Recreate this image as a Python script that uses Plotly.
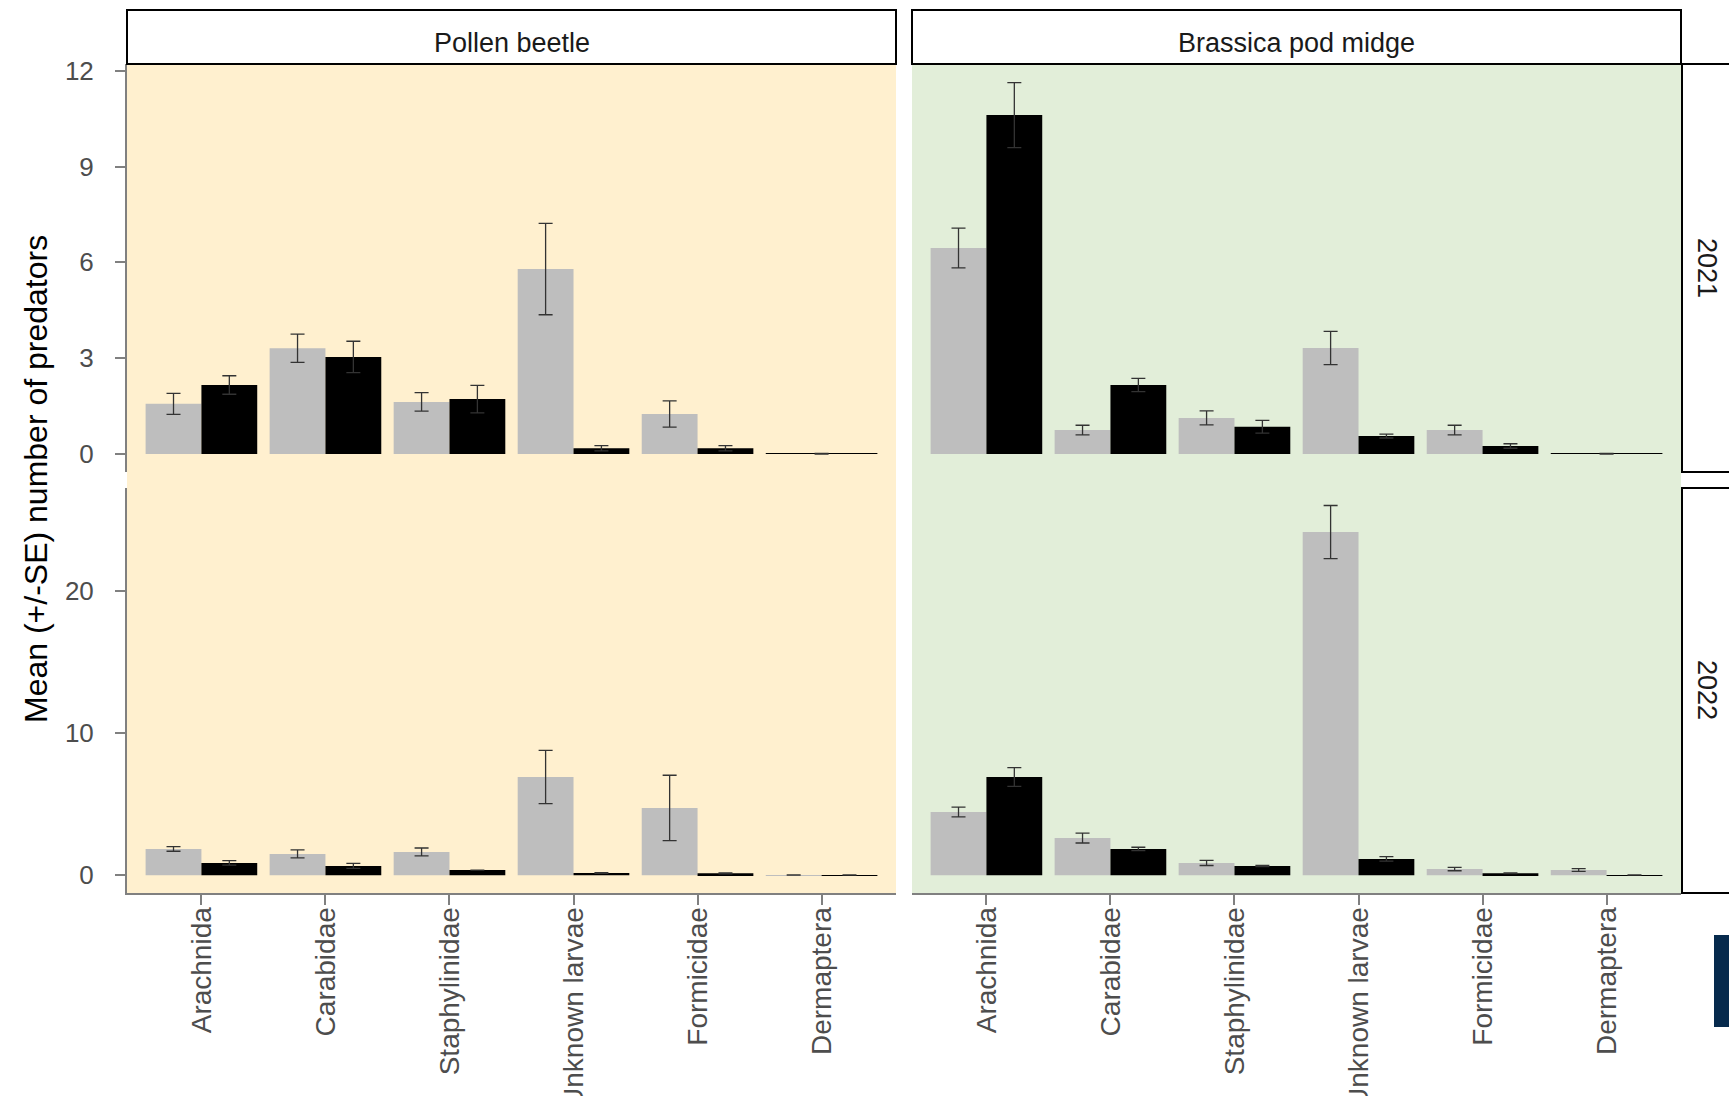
import plotly.graph_objects as go

W, H = 1729, 1096

categories = ["Arachnida", "Carabidae", "Staphylinidae", "Unknown larvae", "Formicidae", "Dermaptera"]
pests = ["Pollen beetle", "Brassica pod midge"]
years = ["2021", "2022"]

# 2021, Pollen beetle
pb21_grey = [1.57, 3.31, 1.63, 5.79, 1.25, None]
pb21_grey_se = [0.33, 0.44, 0.29, 1.43, 0.41, None]
pb21_black = [2.16, 3.04, 1.72, 0.18, 0.18, 0.01]
pb21_black_se = [0.29, 0.49, 0.43, 0.08, 0.08, 0.01]
# 2021, Brassica pod midge
bm21_grey = [6.45, 0.75, 1.13, 3.32, 0.75, None]
bm21_grey_se = [0.62, 0.15, 0.22, 0.52, 0.15, None]
bm21_black = [10.61, 2.16, 0.85, 0.56, 0.25, 0.01]
bm21_black_se = [1.02, 0.21, 0.20, 0.06, 0.07, 0.01]
# 2022, Pollen beetle
pb22_grey = [1.85, 1.50, 1.64, 6.91, 4.73, 0.02]
pb22_grey_se = [0.16, 0.28, 0.28, 1.87, 2.30, 0.0]
pb22_black = [0.87, 0.66, 0.37, 0.16, 0.14, 0.02]
pb22_black_se = [0.16, 0.18, 0.0, 0.03, 0.03, 0.0]
# 2022, Brassica pod midge
bm22_grey = [4.45, 2.62, 0.87, 24.12, 0.44, 0.37]
bm22_grey_se = [0.34, 0.35, 0.18, 1.87, 0.12, 0.10]
bm22_black = [6.91, 1.85, 0.66, 1.15, 0.14, 0.02]
bm22_black_se = [0.66, 0.12, 0.04, 0.16, 0.02, 0.0]

y_ticks_2021 = [0, 3, 6, 9, 12]
y_ticks_2022 = [0, 10, 20]

GREY = "#bebebe"
BLACK = "#000000"
BG = ["#fff0cf", "#e2eed9"]
FONT = "Liberation Sans, Arial, sans-serif"

def px_x(p):
    return p / W

def px_y(p):
    return 1 - p / H

colL = [px_x(127), px_x(896)]
colR = [px_x(912), px_x(1681)]
rowT = [px_y(472), px_y(64)]
rowB = [px_y(893), px_y(488)]

panels = [
    ("x", "y", pb21_grey, pb21_grey_se, pb21_black, pb21_black_se),
    ("x2", "y2", bm21_grey, bm21_grey_se, bm21_black, bm21_black_se),
    ("x3", "y3", pb22_grey, pb22_grey_se, pb22_black, pb22_black_se),
    ("x4", "y4", bm22_grey, bm22_grey_se, bm22_black, bm22_black_se),
]

fig = go.Figure()
BW = 0.45
for xa, ya, g, gse, b, bse in panels:
    # black bar spans the full dodge width where the grey group is missing
    b_off = [-BW if gv is None else 0 for gv in g]
    b_wid = [2 * BW if gv is None else BW for gv in g]
    fig.add_trace(go.Bar(
        x=categories, y=g, xaxis=xa, yaxis=ya, marker=dict(color=GREY, line=dict(width=0)),
        width=BW, offset=-BW, showlegend=False, name="grey",
        error_y=dict(type="data", array=gse, color="#333333", thickness=1.3, width=7),
    ))
    fig.add_trace(go.Bar(
        x=categories, y=b, xaxis=xa, yaxis=ya, marker=dict(color=BLACK, line=dict(width=0)),
        width=b_wid, offset=b_off, showlegend=False, name="black",
        error_y=dict(type="data", array=bse, color="#333333", thickness=1.3, width=7),
    ))

AX_COL = "#808080"
TICK_FONT = dict(family=FONT, size=26, color="#4d4d4d")

def xaxis(domain, anchor, show):
    d = dict(domain=domain, anchor=anchor, range=[-0.6, 5.6], type="category",
             categoryorder="array", categoryarray=categories, showgrid=False,
             zeroline=False, automargin=False, fixedrange=True)
    if show:
        d.update(showline=True, linecolor=AX_COL, linewidth=2, ticks="outside",
                 ticklen=10, tickwidth=1.5, tickcolor=AX_COL, tickangle=-90,
                 tickfont=dict(family=FONT, size=28, color="#4d4d4d"), ticklabelstandoff=-9)
    else:
        d.update(showline=False, showticklabels=False, ticks="")
    return d

def yaxis(domain, anchor, rng, tickvals, show):
    d = dict(domain=domain, anchor=anchor, range=rng, showgrid=False, zeroline=False,
             automargin=False, fixedrange=True)
    if show:
        d.update(showline=True, linecolor=AX_COL, linewidth=2, ticks="outside",
                 ticklen=10, tickwidth=1.5, tickcolor=AX_COL, tickvals=tickvals,
                 tickfont=TICK_FONT, ticklabelstandoff=16)
    else:
        d.update(showline=False, showticklabels=False, ticks="")
    return d

rT = [-0.564, 12.21]
rB = [-1.244, 27.22]

shapes = []
# column backgrounds, continuous through the row gap
for dom, col in zip([colL, colR], BG):
    shapes.append(dict(type="rect", xref="paper", yref="paper", x0=dom[0], x1=dom[1],
                       y0=px_y(893), y1=px_y(64), fillcolor=col, line=dict(width=0), layer="below"))
# column strips
for dom in [colL, colR]:
    shapes.append(dict(type="rect", xref="paper", yref="paper", x0=dom[0], x1=dom[1],
                       y0=px_y(64), y1=px_y(10), fillcolor="white",
                       line=dict(color="black", width=2), layer="above"))
# row strips (extend past right edge)
for y0, y1 in [(472, 64), (893, 488)]:
    shapes.append(dict(type="rect", xref="paper", yref="paper", x0=px_x(1682), x1=px_x(1745),
                       y0=px_y(y0), y1=px_y(y1), fillcolor="white",
                       line=dict(color="black", width=2), layer="above"))
# partially visible legend key at right edge
shapes.append(dict(type="rect", xref="paper", yref="paper", x0=px_x(1714), x1=px_x(1740),
                   y0=px_y(1027), y1=px_y(935), fillcolor="#062a4d", line=dict(width=0),
                   layer="above"))

def ann(text, x, y, size=27, angle=0, color="#1a1a1a"):
    return dict(text=text, x=x, y=y, xref="paper", yref="paper", xanchor="center",
                yanchor="middle", textangle=angle, showarrow=False,
                font=dict(family=FONT, size=size, color=color))

annotations = [
    ann(pests[0], (colL[0] + colL[1]) / 2, px_y(43)),
    ann(pests[1], (colR[0] + colR[1]) / 2, px_y(43)),
    ann(years[0], px_x(1707), px_y(268), angle=90),
    ann(years[1], px_x(1707), px_y(690), angle=90),
    ann("Mean (+/-SE) number of predators", px_x(36), px_y(479), size=32, angle=-90, color="black"),
]

fig.update_layout(
    width=W, height=H, margin=dict(l=0, r=0, t=0, b=0),
    paper_bgcolor="white", plot_bgcolor="rgba(0,0,0,0)",
    barmode="overlay", showlegend=False,
    font=dict(family=FONT),
    xaxis=xaxis(colL, "y", False),
    xaxis2=xaxis(colR, "y2", False),
    xaxis3=xaxis(colL, "y3", True),
    xaxis4=xaxis(colR, "y4", True),
    yaxis=yaxis(rowT, "x", rT, y_ticks_2021, True),
    yaxis2=yaxis(rowT, "x2", rT, y_ticks_2021, False),
    yaxis3=yaxis(rowB, "x3", rB, y_ticks_2022, True),
    yaxis4=yaxis(rowB, "x4", rB, y_ticks_2022, False),
    shapes=shapes, annotations=annotations,
)

fig.write_html("out.html", config={"displayModeBar": False},
               post_script="document.body.style.margin='0px';document.body.style.overflow='hidden';")
